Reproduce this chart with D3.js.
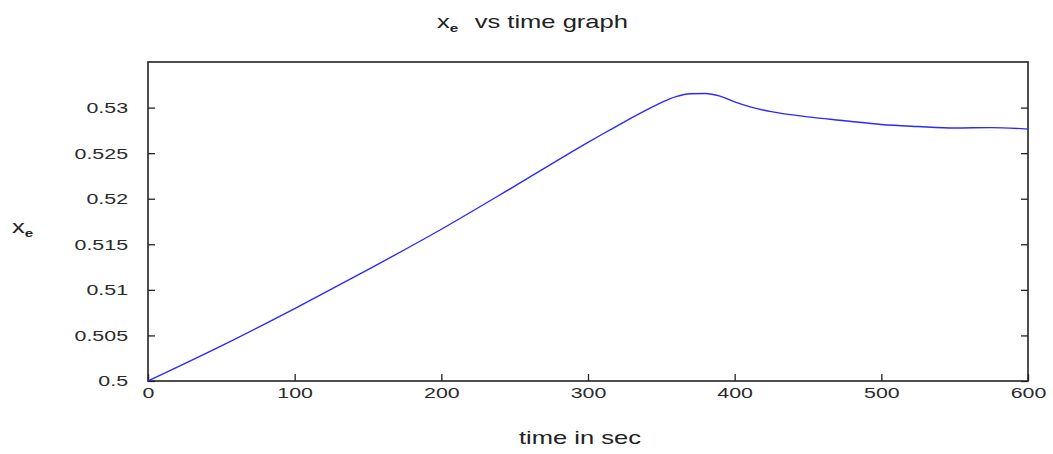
<!DOCTYPE html>
<html>
<head>
<meta charset="utf-8">
<script src="https://cdn.jsdelivr.net/npm/d3@7"></script>
<style>
  body { margin: 0; background: #fff; }
  svg { display: block; font-family: "Liberation Sans", Arial, sans-serif; }
</style>
</head>
<body>
<div id="chart"></div>
<script>
// values
const times = [0, 50, 100, 150, 200, 250, 300, 310, 320, 330, 340, 350, 360, 370, 380, 390, 400, 410, 425, 450, 475, 500, 525, 550, 575, 600];
const xe    = [0.5, 0.50385, 0.50795, 0.51222, 0.51665, 0.52138, 0.52618, 0.5271, 0.5280, 0.5289, 0.52975, 0.53055, 0.5312, 0.53152, 0.53155, 0.53125, 0.53062, 0.5301, 0.52955, 0.52898, 0.52856, 0.52814, 0.52792, 0.52776, 0.52780, 0.52764];
const xTicks = [0, 100, 200, 300, 400, 500, 600];
const yTicks = [0.5, 0.505, 0.51, 0.515, 0.52, 0.525, 0.53];

const width = 1053, height = 454;
const margin = { top: 62, right: 25, bottom: 73, left: 148 };
const innerWidth = width - margin.left - margin.right;
const innerHeight = height - margin.top - margin.bottom;
const stretch = 1.38; // the reference text is wider than it is tall

const svg = d3.select('#chart').append('svg')
    .attr('width', width)
    .attr('height', height);

const g = svg.append('g')
    .attr('transform', `translate(${margin.left},${margin.top})`);

const xScale = d3.scaleLinear().domain([0, 600]).range([0, innerWidth]);
const yScale = d3.scaleLinear().domain([0.5, 0.535]).range([innerHeight, 0]);

// Axes (ticks inward)
const xAxis = d3.axisBottom(xScale).tickValues(xTicks).tickSize(-7).tickPadding(6).tickFormat(d3.format('d'));
const yAxis = d3.axisLeft(yScale).tickValues(yTicks).tickSize(-7).tickFormat(d => String(+d.toFixed(3)));
const yAxisRight = d3.axisRight(yScale).tickValues(yTicks).tickSize(-7).tickFormat('');

const styleAxis = sel => {
    sel.select('.domain').remove();
    sel.selectAll('line').attr('stroke', '#222').attr('stroke-width', 1.3);
    sel.selectAll('text').attr('fill', '#2a2a2a').style('font-size', '15.5px');
};

g.append('g').attr('transform', `translate(0,${innerHeight})`).call(xAxis).call(styleAxis)
    .selectAll('text').attr('transform', `scale(${stretch},1)`);
g.append('g').call(yAxis).call(styleAxis)
    .selectAll('text').attr('x', -20 / stretch).attr('transform', `scale(${stretch},1)`);
g.append('g').attr('transform', `translate(${innerWidth},0)`).call(yAxisRight).call(styleAxis);

// frame
g.append('rect')
    .attr('width', innerWidth)
    .attr('height', innerHeight)
    .attr('fill', 'none')
    .attr('stroke', '#222')
    .attr('stroke-width', 1.6);

// curve
const data = times.map((t, i) => ({ t, v: xe[i] }));
const line = d3.line()
    .x(d => xScale(d.t))
    .y(d => yScale(d.v))
    .curve(d3.curveMonotoneX);

g.append('path')
    .datum(data)
    .attr('d', line)
    .attr('fill', 'none')
    .attr('stroke', '#2a2aff')
    .attr('stroke-width', 1.4);

// stretched text helper
function label(x, y, anchor) {
    return svg.append('text')
        .attr('transform', `translate(${x},${y}) scale(${stretch},1)`)
        .attr('text-anchor', anchor || 'start')
        .attr('fill', '#222');
}

// title
const title = label(437, 28).style('font-size', '18.5px');
title.append('tspan').text('x');
title.append('tspan').attr('dy', 4).style('font-size', '11px').style('font-weight', 'bold').text('e');
title.append('tspan').attr('dy', -4).attr('dx', 12).text('vs time graph');

// y label
const ylab = label(12, 233).style('font-size', '18.5px');
ylab.append('tspan').text('x');
ylab.append('tspan').attr('dy', 4).style('font-size', '11px').style('font-weight', 'bold').text('e');

// x label
label(580, 444, 'middle').style('font-size', '18.5px').text('time in sec');
</script>
</body>
</html>
